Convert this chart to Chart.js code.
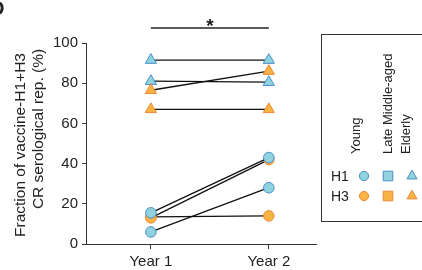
<!DOCTYPE html>
<html>
<head>
<meta charset="utf-8">
<script src="https://cdn.jsdelivr.net/npm/chart.js@4.4.1/dist/chart.umd.min.js"></script>
<style>
  html, body { margin: 0; padding: 0; background: #fff; }
  #wrap { width: 422px; height: 270px; position: relative; }
</style>
</head>
<body>
<div id="wrap"><canvas id="c" width="422" height="270"></canvas></div>
<script>
// tick labels / categories
const years = ['Year 1', 'Year 2'];
const yTicks = [0, 20, 40, 60, 80, 100];
const ageGroups = ['Young', 'Late Middle-aged', 'Elderly'];
const strains = ['H1', 'H3'];

// paired values per donor [Year 1, Year 2]
const h1Elderly = [[91.5, 91.5], [81, 80.5]];
const h3Elderly = [[76.5, 86], [67, 67]];
const h1Young = [[15.5, 43], [6, 28]];
const h3Young = [[13, 42], [13.5, 14]];

const COL = {
  H1: { fill: '#8fd3df', edge: '#4a8ec8' },
  H3: { fill: '#f7b443', edge: '#f0883a' },
  ink: '#222',
  font: "'Liberation Sans', Arial, sans-serif",
};
const AGE_STYLE = { Young: 'circle', 'Late Middle-aged': 'rect', Elderly: 'triangle' };
const LEGEND_R = { circle: 4.6, rect: 6.8, triangle: 5.8 };

function pairSets(pairs, strain, style) {
  return pairs.map(p => ({
    data: p.map((v, i) => ({ x: i, y: v })),
    borderColor: '#111', borderWidth: 1.3,
    pointStyle: style,
    pointRadius: style === 'triangle' ? 6.5 : 5.3,
    pointBackgroundColor: COL[strain].fill,
    pointBorderColor: COL[strain].edge,
    pointBorderWidth: 1,
    showLine: true, fill: false,
  }));
}

const datasets = [
  ...pairSets(h1Young, 'H1', 'circle'),
  ...pairSets(h3Young, 'H3', 'circle'),
  ...pairSets(h3Elderly, 'H3', 'triangle'),
  ...pairSets(h1Elderly, 'H1', 'triangle'),
];

const extras = {
  id: 'extras',
  afterDraw(chart) {
    const g = chart.ctx, xs = chart.scales.x, ys = chart.scales.y;
    g.save();
    g.fillStyle = COL.ink; g.strokeStyle = COL.ink;

    // panel letter (cropped)
    g.font = `bold 20px ${COL.font}`;
    g.textAlign = 'left'; g.textBaseline = 'alphabetic';
    g.fillText('D', -10, 15);

    // y title, two rotated lines
    g.font = `15.5px ${COL.font}`;
    g.textAlign = 'center'; g.textBaseline = 'middle';
    [['Fraction of vaccine-H1+H3', 21, 145], ['CR serological rep. (%)', 39, 129]].forEach(([t, x, y]) => {
      g.save(); g.translate(x, y); g.rotate(-Math.PI / 2); g.fillText(t, 0, 0); g.restore();
    });

    // significance bar
    const x1 = xs.getPixelForValue(0), x2 = xs.getPixelForValue(1);
    const yb = ys.getPixelForValue(107.5);
    g.lineWidth = 1.5;
    g.beginPath(); g.moveTo(x1, yb); g.lineTo(x2, yb); g.stroke();
    g.font = `bold 19px ${COL.font}`;
    g.textBaseline = 'alphabetic';
    g.fillText('*', (x1 + x2) / 2, 32);

    // legend box
    g.lineWidth = 1; g.strokeStyle = '#333';
    g.strokeRect(321.5, 34.5, 120, 187);
    g.font = `13px ${COL.font}`;
    const colX = [364, 388, 412], textX = [360, 392, 410];
    ageGroups.forEach((a, i) => {
      g.save(); g.translate(textX[i], 154); g.rotate(-Math.PI / 2);
      g.textAlign = 'left'; g.textBaseline = 'alphabetic';
      g.fillText(a, 0, 0); g.restore();
    });
    const rowY = [176, 196];
    g.font = `14px ${COL.font}`;
    strains.forEach((s, r) => {
      g.fillStyle = COL.ink; g.textAlign = 'left'; g.textBaseline = 'middle';
      g.fillText(s, 331, rowY[r] + 1);
      ageGroups.forEach((a, i) => {
        g.fillStyle = COL[s].fill; g.strokeStyle = COL[s].edge; g.lineWidth = 1;
        const st = AGE_STYLE[a];
        Chart.helpers.drawPoint(g, { pointStyle: st, radius: LEGEND_R[st], rotation: 0, borderWidth: 1 }, colX[i], rowY[r]);
      });
    });
    g.restore();
  }
};

new Chart(document.getElementById('c'), {
  type: 'scatter',
  data: { datasets },
  options: {
    responsive: false, animation: false,
    layout: { padding: { left: 0, right: 106, top: 43, bottom: 0 } },
    plugins: { legend: { display: false }, tooltip: { enabled: false } },
    elements: { line: { tension: 0 } },
    clip: false,
    scales: {
      x: {
        type: 'linear', min: -0.55, max: 1.4,
        afterBuildTicks: s => { s.ticks = years.map((_, i) => ({ value: i })); },
        afterFit: s => { s.height = 26; },
        ticks: { color: COL.ink, font: { size: 15, family: COL.font }, padding: 4,
          callback: v => years[v] },
        grid: { drawOnChartArea: false, drawTicks: true, tickLength: 5, color: '#333' },
        border: { color: '#333', width: 1 },
      },
      y: {
        min: 0, max: 100,
        afterBuildTicks: s => { s.ticks = yTicks.map(v => ({ value: v })); },
        afterFit: s => { s.width = 86; },
        ticks: { color: COL.ink, font: { size: 15, family: COL.font }, padding: 4 },
        grid: { drawOnChartArea: false, drawTicks: true, tickLength: 4, color: '#333' },
        border: { color: '#333', width: 1 },
      },
    },
  },
  plugins: [extras],
});
</script>
</body>
</html>
